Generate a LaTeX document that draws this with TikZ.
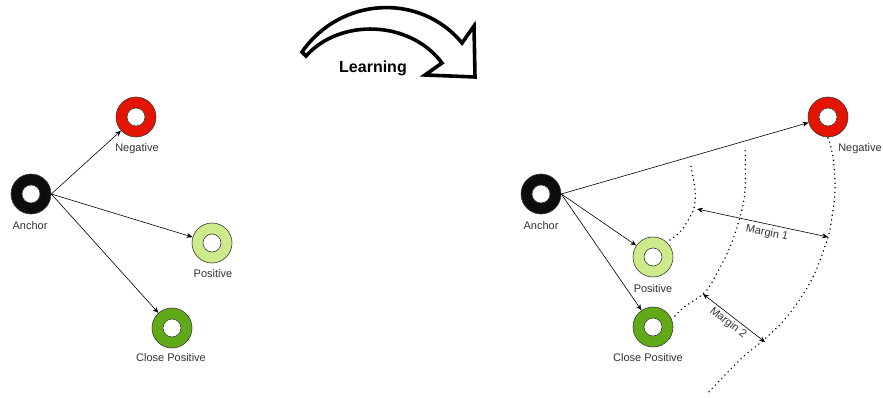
\documentclass[tikz,border=0pt]{standalone}
\usepackage{fontspec}
\setmainfont{Liberation Sans}
\usetikzlibrary{arrows.meta}
\definecolor{negred}{HTML}{E51400}
\definecolor{poslight}{HTML}{CDEB8B}
\definecolor{posdark}{HTML}{60A917}
\definecolor{anchorblk}{HTML}{0D0D0D}
\definecolor{ringline}{HTML}{3A3A3A}
\definecolor{txt}{HTML}{333333}
\tikzset{
  ring/.style={circle, minimum size=40pt, inner sep=0pt, draw=ringline, line width=0.6pt, fill=#1,
    path picture={\draw[ringline, line width=0.6pt, fill=white] (path picture bounding box.center) circle[radius=9pt];}},
  lbl/.style={text=txt, font=\fontsize{11}{13}\selectfont, inner sep=1pt},
  conn/.style={draw=black, line width=0.6pt, -{Stealth[length=6pt,width=5pt]}},
  both/.style={draw=black, line width=0.6pt, {Stealth[length=6pt,width=5pt]}-{Stealth[length=6pt,width=5pt]}},
  dotline/.style={draw=black, line width=1.6pt, line cap=round, dash pattern=on 0pt off 4.6pt},
}
\begin{document}
\begin{tikzpicture}[x=1pt,y=-1pt]
\useasboundingbox (0,0) rectangle (883,398);
% Learning arrow
\draw[line width=3.6pt, fill=white, line join=miter, miter limit=6]
  (302,52) .. controls (340,-3) and (420,-8) .. (462,43)
  -- (474,26) -- (475,77) -- (425,75) -- (442,63)
  .. controls (410,20) and (340,18) .. (306,56) -- cycle;
\node[font=\fontsize{16}{18}\selectfont\bfseries, text=black] (learn) at (373,68) {Learning};

% Left diagram
\node[ring=anchorblk] (la) at (31,194) {};
\node[ring=negred] (ln) at (136,117) {};
\node[ring=poslight] (lp) at (212,243) {};
\node[ring=posdark] (lc) at (172,328) {};
\node[lbl] (lal) at (30,226) {Anchor};
\node[lbl] (lnl) at (137,149) {Negative};
\node[lbl] (lpl) at (213,274) {Positive};
\node[lbl] (lcl) at (171,358) {Close Positive};
\draw[conn] (la.east) -- (ln);
\draw[conn] (la.east) -- (lp);
\draw[conn] (la.east) -- (lc);

% Right diagram
\node[ring=anchorblk] (ra) at (541,194) {};
\node[ring=negred] (rn) at (828,117) {};
\node[ring=poslight] (rp) at (653,257) {};
\node[ring=posdark] (rc) at (653,327) {};
\node[lbl] (ral) at (541,226) {Anchor};
\node[lbl] (rnl) at (860,149) {Negative};
\node[lbl] (rpl) at (653,289) {Positive};
\node[lbl] (rcl) at (648,358) {Close Positive};
\draw[conn] (ra.east) -- (rn);
\draw[conn] (ra.east) -- (rp);
\draw[conn] (ra.east) -- (rc);

% dotted boundaries
\draw[dotline] plot[smooth, tension=0.6] coordinates {(670,240) (680,232) (687,222) (694,208) (695,190) (690,162)};
\draw[dotline] plot[smooth, tension=0.6] coordinates {(675,316) (683,308) (705,292) (717,273) (730,247) (740,217) (745,190) (745,147)};
\draw[dotline] plot[smooth, tension=0.6] coordinates {(828,138) (833,157) (835,190) (831,223) (827,240) (813,277) (790,313) (767,337) (743,357) (723,377) (706,395)};

% margins
\coordinate (m1a) at (697,209);
\coordinate (m1b) at (828,237);
\coordinate (m2a) at (703,294);
\coordinate (m2b) at (765,342);
\draw[both] (m1a) -- (m1b);
\draw[both] (m2a) -- (m2b);
\node[lbl, rotate=-12] (m1l) at (767,233) {Margin 1};
\node[lbl, rotate=-38] (m2l) at (728,323) {Margin 2};
\end{tikzpicture}
\end{document}
